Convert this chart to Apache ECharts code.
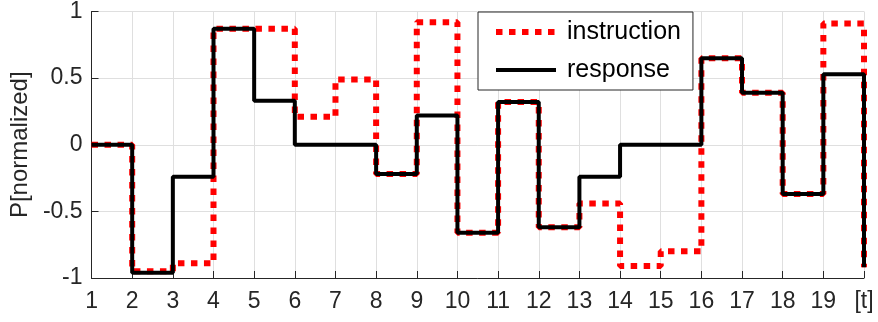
<!DOCTYPE html>
<html>
<head>
<meta charset="utf-8">
<script src="https://cdn.jsdelivr.net/npm/echarts@6/dist/echarts.min.js"></script>
<style>
html,body{margin:0;padding:0;background:#fff;}
#chart{width:878px;height:322px;}
</style>
</head>
<body>
<div id="chart"></div>
<script>
var tValues = [1,2,3,4,5,6,7,8,9,10,11,12,13,14,15,16,17,18,19,20];
var instruction = [0, -0.95, -0.89, 0.87, 0.87, 0.21, 0.49, -0.22, 0.92, -0.66, 0.32, -0.62, -0.44, -0.91, -0.80, 0.65, 0.39, -0.37, 0.91, -0.92];
var response = [0, -0.96, -0.24, 0.87, 0.33, 0, 0, -0.22, 0.22, -0.66, 0.32, -0.62, -0.24, 0, 0, 0.65, 0.39, -0.37, 0.53, -0.92];
var yTicks = [-1, -0.5, 0, 0.5, 1];
var xEndLabel = '[t]';

var chart = echarts.init(document.getElementById('chart'), null, {renderer: 'canvas'});
var fontFam = '"Liberation Sans", Arial, sans-serif';
var axisColor = '#262626';
var gridColor = '#dfdfdf';
var hidden = { color: 'rgba(0,0,0,0)', borderColor: 'rgba(0,0,0,0)', borderWidth: 0, opacity: 0 };

function pairs(xs, ys) { return xs.map(function (x, i) { return [x, ys[i]]; }); }

chart.setOption({
  animation: false,
  backgroundColor: '#fff',
  grid: { left: 88, right: 14, top: 7, bottom: 44, containLabel: false },
  xAxis: {
    type: 'value', min: 1, max: 20, interval: 1,
    axisLine: { show: true, onZero: false, lineStyle: { color: axisColor, width: 1 } },
    axisTick: { show: true, inside: true, length: 7, lineStyle: { color: axisColor } },
    axisLabel: {
      color: axisColor, fontSize: 23, fontFamily: fontFam, margin: 12,
      formatter: function (v) { return v === 20 ? xEndLabel : String(v); }
    },
    splitLine: { show: true, lineStyle: { color: gridColor, width: 1 } }
  },
  yAxis: {
    type: 'value', min: yTicks[0], max: yTicks[yTicks.length - 1], interval: 0.5,
    name: 'P[normalized]', nameLocation: 'middle', nameGap: 51,
    nameTextStyle: { color: axisColor, fontSize: 24, fontFamily: fontFam },
    axisLine: { show: true, lineStyle: { color: axisColor, width: 1 } },
    axisTick: { show: true, inside: true, length: 7, lineStyle: { color: axisColor } },
    axisLabel: {
      color: axisColor, fontSize: 23, fontFamily: fontFam, margin: 9,
      formatter: function (v) { return String(v); }
    },
    splitLine: { show: true, lineStyle: { color: gridColor, width: 1 } }
  },
  legend: {
    orient: 'vertical', left: 478, top: 12,
    padding: [6, 12, 6, 15], itemGap: 10,
    itemWidth: 60, itemHeight: 25,
    backgroundColor: '#fff', borderColor: axisColor, borderWidth: 1, borderRadius: 0,
    textStyle: { color: '#000', fontSize: 25, fontFamily: fontFam, lineHeight: 28, padding: [0, 0, 0, 6] },
    itemStyle: hidden,
    data: [
      { name: 'instruction', itemStyle: hidden, lineStyle: { color: '#ff0000', width: 6, type: [6.5, 6.5], cap: 'butt' } },
      { name: 'response', itemStyle: hidden, lineStyle: { color: '#000000', width: 4, type: 'solid' } }
    ]
  },
  series: [
    {
      name: 'instruction', type: 'line', step: 'end', symbol: 'none',
      data: pairs(tValues, instruction),
      lineStyle: { color: '#ff0000', width: 6, type: [6.5, 6.5], cap: 'butt' },
      itemStyle: { color: '#ff0000' },
      z: 2
    },
    {
      name: 'response', type: 'line', step: 'end', symbol: 'none',
      data: pairs(tValues, response),
      lineStyle: { color: '#000000', width: 4, type: 'solid' },
      itemStyle: { color: '#000000' },
      z: 3
    }
  ]
});
</script>
</body>
</html>
